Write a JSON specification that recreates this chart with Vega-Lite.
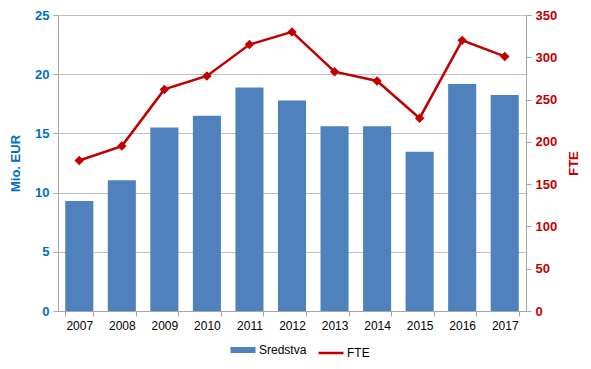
{
  "$schema": "https://vega.github.io/schema/vega-lite/v6.json",
  "width": 468,
  "height": 296,
  "autosize": "none",
  "padding": {"left": 58, "top": 15, "right": 65, "bottom": 58},
  "background": "white",
  "config": {
    "font": "Liberation Sans",
    "view": {"stroke": null},
    "axis": {"labelFont": "Liberation Sans", "titleFont": "Liberation Sans"}
  },
  "data": {
    "values": [
      {"year": "2007", "sredstva": 9.3, "fte": 178},
      {"year": "2008", "sredstva": 11.05, "fte": 195},
      {"year": "2009", "sredstva": 15.5, "fte": 262},
      {"year": "2010", "sredstva": 16.5, "fte": 278},
      {"year": "2011", "sredstva": 18.87, "fte": 315},
      {"year": "2012", "sredstva": 17.77, "fte": 330},
      {"year": "2013", "sredstva": 15.6, "fte": 283},
      {"year": "2014", "sredstva": 15.6, "fte": 272},
      {"year": "2015", "sredstva": 13.45, "fte": 228},
      {"year": "2016", "sredstva": 19.17, "fte": 320},
      {"year": "2017", "sredstva": 18.25, "fte": 301}
    ]
  },
  "encoding": {
    "x": {
      "field": "year",
      "type": "ordinal",
      "scale": {"paddingInner": 0.34, "paddingOuter": 0.17},
      "axis": {
        "title": null,
        "labelAngle": 0,
        "labelColor": "#000000",
        "labelFontSize": 12,
        "domainColor": "#A6A6A6",
        "tickColor": "#A6A6A6",
        "tickBand": "extent",
        "tickSize": 5,
        "labelPadding": 4
      }
    }
  },
  "layer": [
    {
      "mark": {"type": "bar", "color": "#4F81BD"},
      "encoding": {
        "y": {
          "field": "sredstva",
          "type": "quantitative",
          "scale": {"domain": [0, 25]},
          "axis": {
            "title": "Mio. EUR",
            "titleColor": "#0070C0",
            "titleFontSize": 13,
            "titleFontWeight": "bold",
            "titlePadding": 12,
            "labelColor": "#0070C0",
            "labelFontSize": 13,
            "labelFontWeight": "bold",
            "values": [0, 5, 10, 15, 20, 25],
            "grid": true,
            "gridColor": "#BFBFBF",
            "domainColor": "#A6A6A6",
            "tickColor": "#A6A6A6",
            "tickSize": 5,
            "labelPadding": 4
          }
        },
        "color": {
          "datum": "Sredstva",
          "type": "nominal",
          "scale": {"domain": ["Sredstva", "FTE"], "range": ["#4F81BD", "#C00000"]},
          "legend": {
            "title": null,
            "orient": "none",
            "legendX": 179,
            "legendY": 329,
            "direction": "horizontal",
            "symbolType": "stroke",
            "symbolSize": 625,
            "labelOffset": 10,
            "labelFontSize": 12,
            "labelColor": "#000000",
            "columnPadding": 6,
            "encode": {
              "symbols": {
                "update": {
                  "strokeWidth": {"signal": "datum.label == 'FTE' ? 2.5 : 6"}
                }
              }
            }
          }
        }
      }
    },
    {
      "mark": {"type": "line", "color": "#C00000", "strokeWidth": 2.5, "point": {"shape": "diamond", "size": 90, "filled": true, "color": "#C00000"}},
      "encoding": {
        "y": {
          "field": "fte",
          "type": "quantitative",
          "scale": {"domain": [0, 350]},
          "axis": {
            "orient": "right",
            "title": "FTE",
            "titleAngle": 270,
            "titleColor": "#C00000",
            "titleFontSize": 13,
            "titleFontWeight": "bold",
            "titlePadding": 24,
            "labelColor": "#C00000",
            "labelFontSize": 13,
            "labelFontWeight": "bold",
            "values": [0, 50, 100, 150, 200, 250, 300, 350],
            "grid": false,
            "domainColor": "#A6A6A6",
            "tickColor": "#A6A6A6",
            "tickSize": 5,
            "labelPadding": 4
          }
        },
        "color": {"datum": "FTE", "type": "nominal"}
      }
    }
  ],
  "resolve": {"scale": {"y": "independent"}}
}
